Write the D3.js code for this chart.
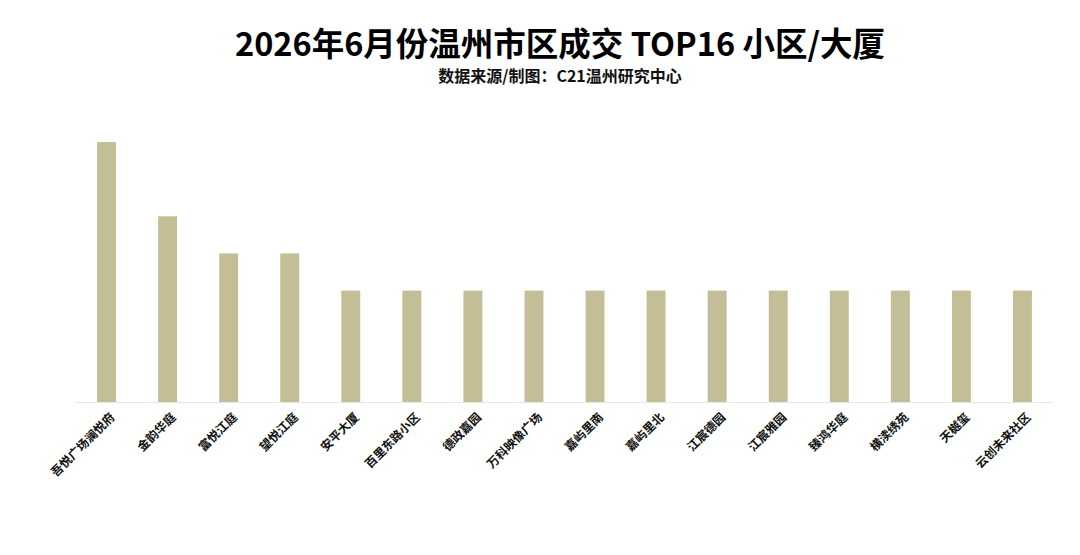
<!DOCTYPE html>
<html>
<head>
<meta charset="utf-8">
<script src="https://cdn.jsdelivr.net/npm/d3@7"></script>
<style>
  body { margin: 0; background: #fff; }
  text { font-family: "Noto Sans CJK SC", "Noto Sans", sans-serif; }
</style>
</head>
<body>
<div id="chart"></div>
<script>
const categories = ["吾悦广场澜悦府", "金韵华庭", "富悦江庭", "望悦江庭", "安平大厦", "百里东路小区", "德政嘉园", "万科映像广场",
    "嘉屿里南", "嘉屿里北", "江宸德园", "江宸雅园", "臻鸿华庭", "横渎绣苑", "天樾玺", "云创未来社区"]
const values = [7, 5, 4, 4, 3, 3, 3, 3, 3, 3, 3, 3, 3, 3, 3, 3]
const title = "2026年6月份温州市区成交 TOP16 小区/大厦"
const subtitle = "数据来源/制图：C21温州研究中心"

const width = 1080
const height = 555
const margin = {top: 45, right: 27, bottom: 153, left: 76}

const svg = d3.select("#chart")
    .append("svg")
    .attr("width", width)
    .attr("height", height)
    .attr("viewBox", [0, 0, width, height])

const x = d3.scaleBand()
    .domain(categories)
    .range([margin.left, width - margin.right])
    .paddingInner(0.69)
    .paddingOuter(0.345)

const y = d3.scaleLinear()
    .domain([0, 7])
    .range([height - margin.bottom, 142])

// baseline
svg.append("line")
    .attr("x1", margin.left)
    .attr("x2", width - margin.right)
    .attr("y1", y(0) + 0.5)
    .attr("y2", y(0) + 0.5)
    .attr("stroke", "#e6e6e6")
    .attr("stroke-width", 1)

svg.append("g")
    .selectAll("rect")
    .data(values)
    .join("rect")
    .attr("x", (d, i) => x(categories[i]))
    .attr("width", x.bandwidth())
    .attr("y", d => y(d))
    .attr("height", d => y(0) - y(d))
    .attr("fill", "#c4be96")

const xAxis = svg.append("g")
    .attr("transform", `translate(0,${y(0)})`)
    .call(d3.axisBottom(x).tickSize(0).tickPadding(0))
    .call(g => g.select(".domain").remove())

xAxis.selectAll("text")
    .attr("font-size", 12)
    .attr("font-weight", "bold")
    .attr("fill", "#111")
    .attr("text-anchor", "end")
    .attr("dy", "0.35em")
    .attr("transform", "translate(6,13) rotate(-45)")

svg.append("text")
    .attr("x", 560)
    .attr("y", 56)
    .attr("text-anchor", "middle")
    .attr("font-size", 32.5)
    .attr("font-weight", "bold")
    .attr("fill", "#000")
    .text(title)

svg.append("text")
    .attr("x", 560)
    .attr("y", 82)
    .attr("text-anchor", "middle")
    .attr("font-size", 16)
    .attr("font-weight", "bold")
    .attr("fill", "#111")
    .text(subtitle)
</script>
</body>
</html>
